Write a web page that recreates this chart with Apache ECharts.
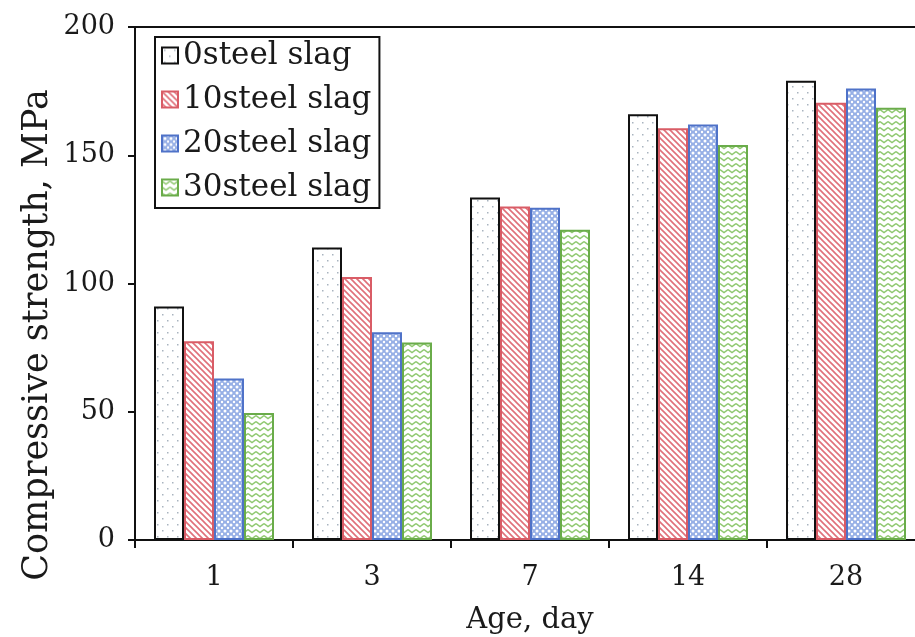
<!DOCTYPE html>
<html>
<head>
<meta charset="utf-8">
<script src="https://cdn.jsdelivr.net/npm/echarts@6/dist/echarts.min.js"></script>
<style>html,body{margin:0;padding:0;background:#fff;}#c{width:915px;height:637px;}</style>
</head>
<body>
<div id="c"></div>
<script>
const categories = ['1', '3', '7', '14', '28'];
const seriesNames = ['0steel slag', '10steel slag', '20steel slag', '30steel slag'];
const s0 = [91, 114, 133.5, 166, 179];
const s10 = [77.5, 102.5, 130, 160.5, 170.5];
const s20 = [63, 81, 129.5, 162, 176];
const s30 = [49.5, 77, 121, 154, 168.5];
const yTicks = [0, 50, 100, 150, 200];
const xTitle = 'Age, day';
const yTitle = 'Compressive strength, MPa';

function pat(w, h, draw) {
  const c = document.createElement('canvas');
  c.width = w; c.height = h;
  const g = c.getContext('2d');
  g.fillStyle = '#fff'; g.fillRect(0, 0, w, h);
  draw(g, w, h);
  return { image: c, repeat: 'repeat' };
}
const pDots = pat(10, 12, (g) => {
  g.fillStyle = '#a9b4bf';
  g.fillRect(2, 2, 1.5, 1.5);
  g.fillRect(7, 8, 1.5, 1.5);
});
const pRed = pat(6, 6, (g) => {
  g.strokeStyle = '#e0707a'; g.lineWidth = 1.6;
  g.beginPath();
  g.moveTo(-1, -1); g.lineTo(7, 7);
  g.moveTo(-4, 2); g.lineTo(4, 10);
  g.moveTo(2, -4); g.lineTo(10, 4);
  g.stroke();
});
const pBlue = pat(6, 6, (g) => {
  g.fillStyle = '#97b0e6'; g.fillRect(0, 0, 6, 6);
  g.fillStyle = '#ffffff';
  g.beginPath(); g.arc(3, 3, 1.5, 0, Math.PI * 2); g.fill();
  g.beginPath(); g.arc(0, 0, 1.2, 0, Math.PI * 2); g.fill();
  g.beginPath(); g.arc(6, 0, 1.2, 0, Math.PI * 2); g.fill();
  g.beginPath(); g.arc(0, 6, 1.2, 0, Math.PI * 2); g.fill();
  g.beginPath(); g.arc(6, 6, 1.2, 0, Math.PI * 2); g.fill();
});
const pGreen = pat(8, 6, (g) => {
  g.strokeStyle = '#8fc870'; g.lineWidth = 1.4;
  g.beginPath();
  g.moveTo(0, 1.5); g.lineTo(4, 4.5); g.lineTo(8, 1.5);
  g.stroke();
});

const fills = [pDots, pRed, pBlue, pGreen];
const borders = ['#111111', '#d95c66', '#4f72c8', '#6aac4a'];
const values = [s0, s10, s20, s30];
const FONT = 'DejaVu Serif';

const chart = echarts.init(document.getElementById('c'), null, { renderer: 'canvas' });
chart.setOption({
  animation: false,
  backgroundColor: '#fff',
  grid: { left: 135, top: 27, width: 790, height: 513, show: false, containLabel: false, outerBoundsMode: 'none' },
  legend: {
    orient: 'vertical', left: 155, top: 37,
    data: seriesNames,
    itemWidth: 16, itemHeight: 16, itemGap: 13, icon: 'rect',
    borderColor: '#111', borderWidth: 2, padding: [3, 8, 5, 6],
    textStyle: { fontFamily: FONT, fontSize: 31, color: '#1a1a1a', lineHeight: 30 }
  },
  xAxis: [{
    type: 'category', data: categories,
    name: xTitle, nameLocation: 'middle', nameGap: 66,
    nameTextStyle: { fontFamily: FONT, fontSize: 29, color: '#1a1a1a' },
    axisLine: { lineStyle: { color: '#111', width: 2 } },
    axisTick: { show: true, alignWithLabel: false, length: 8, lineStyle: { color: '#111', width: 2 } },
    axisLabel: { fontFamily: FONT, fontSize: 27, color: '#1a1a1a', margin: 24 }
  }, {
    type: 'category', data: categories, position: 'top',
    axisLine: { show: true, lineStyle: { color: '#111', width: 2 } },
    axisTick: { show: false }, axisLabel: { show: false }
  }],
  yAxis: {
    type: 'value', min: 0, max: 200, interval: 50,
    axisLine: { show: true, lineStyle: { color: '#111', width: 2 } },
    axisTick: { show: true, length: 7, lineStyle: { color: '#111', width: 2 } },
    splitLine: { show: false },
    axisLabel: { fontFamily: FONT, fontSize: 27, color: '#1a1a1a', margin: 20,
      formatter: (v) => (yTicks.indexOf(v) >= 0 ? String(v) : '') }
  },
  graphic: [{
    type: 'text', x: 38, y: 335, rotation: Math.PI / 2,
    style: { text: yTitle, fontFamily: FONT, fontSize: 35, fill: '#1a1a1a', align: 'center', verticalAlign: 'middle' }
  }],
  series: seriesNames.map((n, i) => ({
    name: n, type: 'bar', data: values[i], xAxisIndex: 0,
    barWidth: 30, barGap: '0%',
    itemStyle: { color: fills[i], borderColor: borders[i], borderWidth: 2 }
  }))
});
</script>
</body>
</html>
